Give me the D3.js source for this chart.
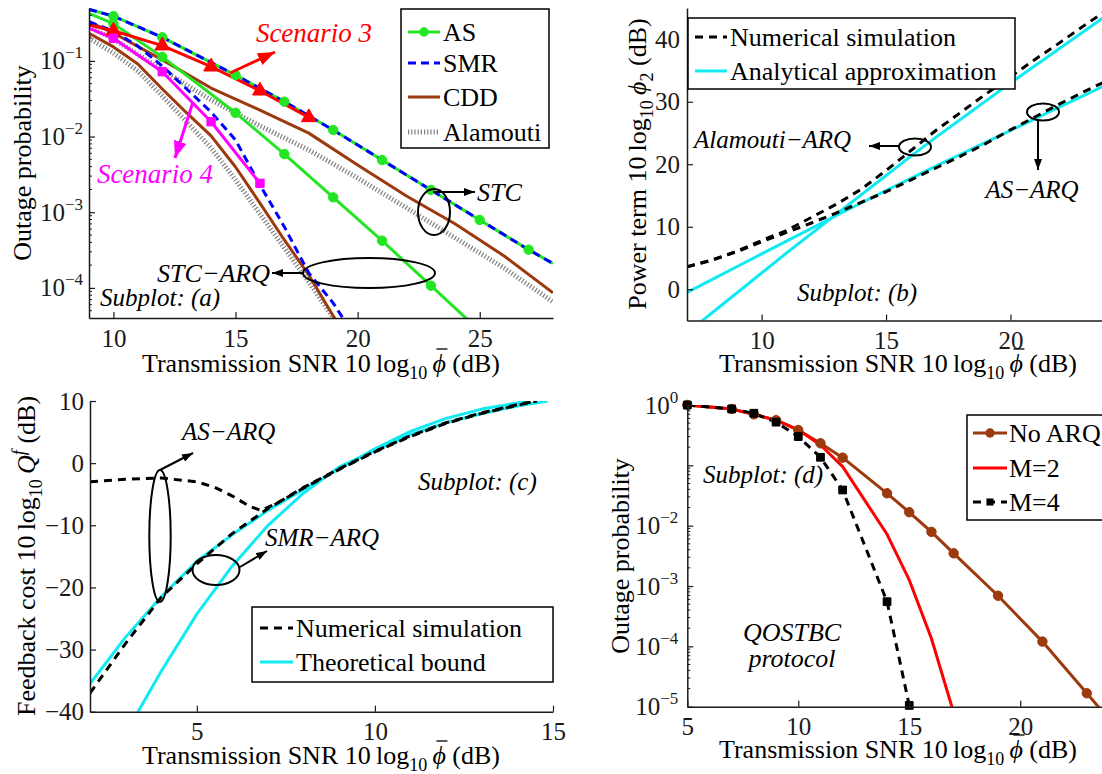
<!DOCTYPE html>
<html>
<head>
<meta charset="utf-8">
<script src="https://cdn.jsdelivr.net/npm/d3@7"></script>
<style>
  body { margin: 0; background: #fff; }
  svg { display: block; }
</style>
</head>
<body>
<script>
// ---------- data ----------

// subplot (a): outage probability, STC and STC-ARQ
var aSnr = [9, 10, 12, 15, 17, 19, 21, 23, 25, 27, 28];
var aAs = [0.48, 0.39, 0.205, 0.065, 0.0289, 0.0122, 0.0049, 0.00197, 7.9e-4, 3.2e-4, 2.1e-4];
var aSmr = [0.48, 0.39, 0.205, 0.065, 0.0289, 0.0122, 0.0049, 0.00197, 7.9e-4, 3.2e-4, 2.1e-4];
var aAsMarks = [10, 12, 15, 17, 19, 21, 23, 25, 27];

var aSnrAsArq = [9, 10, 12, 15, 17, 19, 21, 23, 25];
var aAsArq = [0.425, 0.31, 0.113, 0.0206, 0.00587, 0.00157, 4.2e-4, 1.07e-4, 2.7e-5];
var aAsArqMarks = [10, 12, 15, 17, 19, 21, 23];

var aSnrSmrArq = [9, 10, 11, 12, 13, 14, 15, 16, 17, 18, 19, 20];
var aSmrArq = [0.33, 0.248, 0.157, 0.0855, 0.0425, 0.0211, 0.009, 0.0023, 6.4e-4, 1.57e-4, 6.3e-5, 2e-5];

var aSnrCdd = [9, 10, 12, 14, 16, 18, 20, 22, 24, 26, 28];
var aCdd = [0.327, 0.234, 0.103, 0.0438, 0.0224, 0.0111, 0.0042, 0.00164, 6.98e-4, 2.64e-4, 8.6e-5];
var aAlamouti = [0.28, 0.195, 0.0759, 0.0304, 0.0138, 0.00664, 0.00283, 0.00114, 4.56e-4, 1.83e-4, 6.5e-5];

var aSnrStcArq = [9, 10, 11, 12, 13, 14, 15, 16, 17, 18, 19, 20];
var aCddArq = [0.232, 0.153, 0.091, 0.0426, 0.0205, 0.0102, 0.00396, 0.00132, 4.3e-4, 1.48e-4, 4.25e-5, 1.2e-5];
var aAlamoutiArq = [0.2, 0.127, 0.0734, 0.0343, 0.0156, 0.00706, 0.00267, 9.5e-4, 3.37e-4, 1.2e-4, 4.0e-5, 1.1e-5];

var aSnrS3 = [9, 10, 12, 14, 16, 18];
var aS3 = [0.298, 0.25, 0.159, 0.0838, 0.0403, 0.0179];
var aSnrS4 = [9, 10, 12, 14, 16];
var aS4 = [0.27, 0.199, 0.072, 0.0157, 0.00241];

var aXTicks = [10, 15, 20, 25];
var aYTicks = [1e-4, 1e-3, 1e-2, 1e-1];
var aLegend = ["AS", "SMR", "CDD", "Alamouti"];

// subplot (b): power term
var bSnr = [7, 8, 9, 10, 11, 12, 13, 14, 15, 16, 17, 18, 19, 20, 21, 22, 23, 24];
var bAlaSim = [3.6, 4.6, 6.1, 7.8, 9.4, 11.5, 13.6, 16.0, 19.0, 22.2, 25.4, 28.3, 31.2, 34.0, 36.8, 39.5, 42.3, 45.0];
var bAlaApprox = [-7.0, -3.8, -0.6, 2.6, 5.8, 8.9, 12.0, 15.1, 18.2, 21.3, 24.3, 27.2, 30.1, 33.0, 35.8, 38.6, 41.4, 44.2];
var bAsSim = [3.6, 4.7, 6.0, 7.6, 9.1, 10.6, 12.2, 13.9, 15.6, 17.5, 19.4, 21.3, 23.3, 25.5, 27.6, 29.7, 31.7, 33.6];
var bAsApprox = [-0.5, 1.55, 3.6, 5.65, 7.7, 9.75, 11.8, 13.8, 15.8, 17.75, 19.7, 21.6, 23.5, 25.4, 27.3, 29.2, 31.1, 33.0];
var bXTicks = [10, 15, 20];
var bYTicks = [0, 10, 20, 30, 40];
var bLegend = ["Numerical simulation", "Analytical approximation"];

// subplot (c): feedback cost
var cSnrAsSim = [2, 3, 4, 5, 5.5, 6, 6.5, 6.8, 7.2, 8, 9, 10, 11, 12, 13, 14, 14.5];
var cAsSim = [-3, -2.6, -2.4, -3.0, -3.9, -5.3, -7.0, -7.6, -6.6, -3.9, -0.9, 1.9, 4.4, 6.5, 8.1, 9.4, 10];
var cSnrSmrSim = [2, 3, 4, 5, 6, 7, 8, 9, 10, 11, 12, 13, 14, 14.55];
var cSmrSim = [-37, -29, -21.6, -16.2, -11.3, -7.3, -4.0, -1.0, 1.8, 4.3, 6.4, 8.0, 9.3, 10];
var cSnrAsBound = [2, 3, 4, 5, 6, 7, 8, 9, 10, 11, 12, 13, 14, 14.27];
var cAsBound = [-35.5, -28, -21.5, -15.8, -11.5, -7.6, -4.2, -0.9, 2.3, 5.1, 7.2, 8.7, 9.7, 10];
var cSnrSmrBound = [3.3, 4, 5, 6, 7, 8, 9, 10, 11, 12, 13, 14, 14.85];
var cSmrBound = [-40.5, -33.5, -24.3, -16.5, -10.0, -4.8, -0.6, 2.0, 4.6, 6.5, 8.0, 9.2, 10];
var cXTicks = [5, 10, 15];
var cYTicks = [-40, -30, -20, -10, 0, 10];
var cLegend = ["Numerical simulation", "Theoretical bound"];

// subplot (d): QOSTBC protocol
var dSnrNoArq = [5, 7, 8, 9, 10, 11, 12, 14, 15, 16, 17, 19, 21, 23, 24];
var dNoArq = [1.0, 0.86, 0.70, 0.56, 0.385, 0.232, 0.134, 0.0344, 0.0167, 0.0079, 0.00348, 6.9e-4, 1.2e-4, 1.67e-5, 6.2e-6];
var dNoArqMarks = [5, 7, 8, 9, 10, 11, 12, 14, 15, 16, 17, 19, 21, 23];
var dSnrM2 = [5, 7, 8, 9, 10, 11, 12, 14, 15, 16, 17];
var dM2 = [1.0, 0.86, 0.70, 0.56, 0.39, 0.217, 0.095, 0.0072, 0.00126, 1.35e-4, 8e-6];
var dSnrM4 = [5, 7, 8, 9, 10, 11, 12, 14, 15];
var dM4 = [1.0, 0.86, 0.73, 0.52, 0.30, 0.136, 0.039, 5.5e-4, 1.05e-5];
var dXTicks = [5, 10, 15, 20];
var dYTicks = [1e-5, 1e-4, 1e-3, 1e-2, 1e-1, 1];
var dYLabelled = [1e-5, 1e-4, 1e-3, 1e-2, 1];
var dLegend = ["No ARQ", "M=2", "M=4"];

// ---------- drawing ----------
var serif = "'Liberation Serif','Times New Roman',serif";
var GREEN = "#22e622", BLUE = "#0000ff", BROWN = "#9c3a0e", GRAY = "#808080",
    RED = "#ff0000", MAG = "#ff00ff", CYAN = "#11eaf2";

var svg = d3.select("body").append("svg")
    .attr("width", 1102).attr("height", 774)
    .style("font-family", serif);
var defs = svg.append("defs");

function arrowHead(id, color, len, wid) {
    defs.append("marker").attr("id", id)
        .attr("markerUnits", "userSpaceOnUse")
        .attr("viewBox", "0 0 " + len + " " + wid)
        .attr("refX", len).attr("refY", wid / 2)
        .attr("markerWidth", len).attr("markerHeight", wid)
        .attr("orient", "auto")
        .append("path")
        .attr("d", "M0,0L" + len + "," + (wid / 2) + "L0," + wid + "Z")
        .attr("fill", color);
}
arrowHead("ahBlack", "#000", 11, 8);
arrowHead("ahRed", RED, 17, 13);
arrowHead("ahMag", MAG, 17, 13);

function makePanel(o) {
    var p = {};
    p.x = d3.scaleLinear().domain(o.xDom).range([o.l, o.r]);
    p.y = (o.log ? d3.scaleLog() : d3.scaleLinear()).domain(o.yDom).range([o.b, o.t]);
    p.g = svg.append("g");
    p.clip = "clip-" + o.name;
    defs.append("clipPath").attr("id", p.clip).append("rect")
        .attr("x", o.l).attr("y", o.t)
        .attr("width", o.r - o.l).attr("height", o.b - o.t);
    p.lines = p.g.append("g").attr("clip-path", "url(#" + p.clip + ")");
    p.marks = p.g.append("g");

    var ax = p.g.append("g").attr("transform", "translate(0," + o.b + ")")
        .call(d3.axisBottom(p.x).tickValues(o.xTicks).tickSizeInner(-6)
            .tickSizeOuter(0).tickPadding(11).tickFormat(d3.format("d")));
    var ay = p.g.append("g").attr("transform", "translate(" + o.l + ",0)")
        .call(d3.axisLeft(p.y).tickValues(o.yTicks).tickSizeInner(-6)
            .tickSizeOuter(0).tickPadding(o.yPad)
            .tickFormat(o.log ? function () { return ""; } : d3.format("d")));
    [ax, ay].forEach(function (a) {
        a.attr("font-size", 25).attr("font-family", serif).attr("color", "#1a1a1a");
        a.select(".domain").attr("stroke-width", 1.5);
        a.selectAll(".tick line").attr("stroke-width", 1.2);
    });

    if (o.log) {
        var labelled = o.yLabelled || o.yTicks;
        ay.selectAll(".tick text").each(function (d) {
            var t = d3.select(this);
            if (labelled.indexOf(d) < 0) return;
            var e = Math.round(Math.log10(d));
            t.append("tspan").text("10");
            t.append("tspan").attr("dy", -11).attr("font-size", 17)
                .text(e === 0 ? "0" : "\u2212" + (-e));
        });
        // minor ticks
        var lo = Math.floor(Math.log10(o.yDom[0])), hi = Math.ceil(Math.log10(o.yDom[1]));
        var minor = [];
        for (var e = lo; e < hi; e++) {
            for (var k = 2; k < 10; k++) {
                var v = k * Math.pow(10, e);
                if (v > o.yDom[0] && v < o.yDom[1]) minor.push(v);
            }
        }
        p.g.append("g").selectAll("line").data(minor).enter().append("line")
            .attr("x1", o.l).attr("x2", o.l + 3)
            .attr("y1", function (d) { return p.y(d); })
            .attr("y2", function (d) { return p.y(d); })
            .attr("stroke", "#1a1a1a").attr("stroke-width", 1);
    }
    return p;
}

function series(p, xs, ys, st) {
    var pts = xs.map(function (v, i) { return [v, ys[i]]; });
    p.lines.append("path").datum(pts)
        .attr("fill", "none")
        .attr("stroke", st.color)
        .attr("stroke-width", st.width || 3)
        .attr("stroke-dasharray", st.dash || null)
        .attr("stroke-linejoin", "round")
        .attr("d", d3.line().x(function (d) { return p.x(d[0]); })
            .y(function (d) { return p.y(d[1]); }));
    if (st.sym) {
        var mk = pts.filter(function (d) { return st.marks.indexOf(d[0]) >= 0; });
        p.marks.selectAll(null).data(mk).enter().append("path")
            .attr("transform", function (d) {
                return "translate(" + p.x(d[0]) + "," + p.y(d[1]) + ")";
            })
            .attr("d", d3.symbol().type(st.sym).size(st.size || 64))
            .attr("fill", st.fill || st.color)
            .attr("stroke", st.color).attr("stroke-width", 1);
    }
}

function legend(bx, by, bw, bh, items, lx0, lx1, tx) {
    var g = svg.append("g");
    g.append("rect").attr("x", bx).attr("y", by).attr("width", bw).attr("height", bh)
        .attr("fill", "#fff").attr("stroke", "#000").attr("stroke-width", 1.5);
    items.forEach(function (it) {
        g.append("line").attr("x1", lx0).attr("x2", lx1).attr("y1", it.y).attr("y2", it.y)
            .attr("stroke", it.color).attr("stroke-width", it.width || 3)
            .attr("stroke-dasharray", it.dash || null);
        if (it.sym) {
            g.append("path").attr("transform", "translate(" + ((lx0 + lx1) / 2) + "," + it.y + ")")
                .attr("d", d3.symbol().type(it.sym).size(it.size || 64))
                .attr("fill", it.color);
        }
        g.append("text").attr("x", tx).attr("y", it.y).attr("dy", "0.34em")
            .attr("font-size", 26).text(it.label);
    });
}

function note(x, y, txt, o) {
    o = o || {};
    return svg.append("text").attr("x", x).attr("y", y).attr("dy", "0.33em")
        .attr("font-size", o.size || 25).attr("font-style", "italic")
        .attr("text-anchor", o.anchor || "start")
        .attr("fill", o.color || "#000").text(txt);
}
function ring(cx, cy, rx, ry) {
    svg.append("ellipse").attr("cx", cx).attr("cy", cy).attr("rx", rx).attr("ry", ry)
        .attr("fill", "none").attr("stroke", "#000").attr("stroke-width", 2);
}
function arrow(x1, y1, x2, y2, color, head, w) {
    svg.append("line").attr("x1", x1).attr("y1", y1).attr("x2", x2).attr("y2", y2)
        .attr("stroke", color).attr("stroke-width", w || 2)
        .attr("marker-end", "url(#" + head + ")");
}

// x label with a bar drawn over the phi
function snrLabel(cx, y) {
    var lead = "Transmission SNR 10\u2009log";
    var t = svg.append("text").attr("x", cx).attr("y", y)
        .attr("text-anchor", "middle").attr("font-size", 26);
    t.append("tspan").text(lead);
    t.append("tspan").attr("font-size", 18).attr("dy", 7).text("10");
    t.append("tspan").attr("dy", -7).text("\u2009");
    t.append("tspan").attr("font-style", "italic").text("\u03D5");
    t.append("tspan").text(" (dB)");
    var ext = t.node().getExtentOfChar(lead.length + 3);
    svg.append("line")
        .attr("x1", ext.x + ext.width * 0.3).attr("x2", ext.x + ext.width * 0.3 + 11)
        .attr("y1", y - 23).attr("y2", y - 23)
        .attr("stroke", "#000").attr("stroke-width", 1.3);
}
function yLabel(cx, cy, build) {
    var t = svg.append("text").attr("transform", "translate(" + cx + "," + cy + ") rotate(-90)")
        .attr("text-anchor", "middle").attr("font-size", 26);
    build(t);
}

// ----- subplot (a) -----
var pa = makePanel({ name: "a", l: 89, r: 553, t: 8, b: 318, xDom: [9, 28],
    yDom: [4e-5, 0.5], log: true, xTicks: aXTicks, yTicks: aYTicks, yPad: 6 });
series(pa, aSnrCdd, aAlamouti, { color: GRAY, width: 5, dash: "1.2 2" });
series(pa, aSnrStcArq, aAlamoutiArq, { color: GRAY, width: 5, dash: "1.2 2" });
series(pa, aSnrCdd, aCdd, { color: BROWN });
series(pa, aSnrStcArq, aCddArq, { color: BROWN });
series(pa, aSnr, aAs, { color: GREEN, sym: d3.symbolCircle, size: 70, marks: aAsMarks });
series(pa, aSnrAsArq, aAsArq, { color: GREEN, sym: d3.symbolCircle, size: 70, marks: aAsArqMarks });
series(pa, aSnr, aSmr, { color: BLUE, dash: "8 5" });
series(pa, aSnrSmrArq, aSmrArq, { color: BLUE, dash: "8 5" });
series(pa, aSnrS3, aS3, { color: RED, sym: d3.symbolTriangle, size: 95, marks: aSnrS3.slice(1) });
series(pa, aSnrS4, aS4, { color: MAG, sym: d3.symbolSquare, size: 70, marks: aSnrS4.slice(1) });

legend(401, 9, 148, 139, [
    { label: aLegend[0], y: 32, color: GREEN, sym: d3.symbolCircle, size: 70 },
    { label: aLegend[1], y: 63, color: BLUE, dash: "8 5" },
    { label: aLegend[2], y: 97, color: BROWN },
    { label: aLegend[3], y: 132, color: GRAY, width: 5, dash: "1.2 2" }
], 408, 440, 443);

arrow(230, 73, 275, 52, RED, "ahRed", 3);
note(314, 33, "Scenario 3", { color: RED, size: 27, anchor: "middle" });
arrow(193, 102, 175, 158, MAG, "ahMag", 3);
note(155, 174, "Scenario 4", { color: MAG, size: 27, anchor: "middle" });
ring(434, 212, 16, 23);
arrow(433, 192, 475, 192, "#000", "ahBlack");
note(477, 192, "STC", { size: 26 });
ring(369, 273, 66, 15);
arrow(303, 273, 272, 273, "#000", "ahBlack");
note(270, 273, "STC\u2212ARQ", { size: 26, anchor: "end" });
note(100, 298, "Subplot: (a)");

snrLabel(321, 372);
yLabel(31, 163, function (t) { t.text("Outage probability"); });

// ----- subplot (b) -----
var pb = makePanel({ name: "b", l: 687, r: 1110, t: 8, b: 320.5, xDom: [7, 24],
    yDom: [-5, 45], log: false, xTicks: bXTicks, yTicks: bYTicks, yPad: 7 });
series(pb, bSnr, bAlaApprox, { color: CYAN });
series(pb, bSnr, bAsApprox, { color: CYAN });
series(pb, bSnr, bAlaSim, { color: "#000", dash: "8 6" });
series(pb, bSnr, bAsSim, { color: "#000", dash: "8 6" });

legend(688, 18, 327, 71, [
    { label: bLegend[0], y: 37, color: "#000", dash: "8 6" },
    { label: bLegend[1], y: 71, color: CYAN }
], 695, 727, 730);

ring(915, 147, 16, 8.5);
arrow(899, 146, 869, 146, "#000", "ahBlack");
note(694, 140, "Alamouti\u2212ARQ");
ring(1043, 112, 16, 8.5);
arrow(1038, 121, 1038, 170, "#000", "ahBlack");
note(1032, 190, "AS\u2212ARQ", { anchor: "middle" });
note(797, 293, "Subplot: (b)");

snrLabel(898, 372);
yLabel(646, 164, function (t) {
    t.append("tspan").text("Power term 10\u2009log");
    t.append("tspan").attr("font-size", 18).attr("dy", 7).text("10");
    t.append("tspan").attr("dy", -7).text("\u2009");
    t.append("tspan").attr("font-style", "italic").text("\u03D5");
    t.append("tspan").attr("font-size", 18).attr("dy", 7).text("2");
    t.append("tspan").attr("dy", -7).text(" (dB)");
});

// ----- subplot (c) -----
var pc = makePanel({ name: "c", l: 90, r: 553, t: 401, b: 711.7, xDom: [2, 15],
    yDom: [-40, 10], log: false, xTicks: cXTicks, yTicks: cYTicks, yPad: 6 });
series(pc, cSnrAsBound, cAsBound, { color: CYAN });
series(pc, cSnrSmrBound, cSmrBound, { color: CYAN });
series(pc, cSnrAsSim, cAsSim, { color: "#000", dash: "8 6" });
series(pc, cSnrSmrSim, cSmrSim, { color: "#000", dash: "8 6" });

legend(252, 607, 301, 75, [
    { label: cLegend[0], y: 628, color: "#000", dash: "8 6" },
    { label: cLegend[1], y: 662, color: CYAN }
], 260, 293, 296);

ring(160, 536, 10.7, 66);
arrow(160, 470, 193, 453, "#000", "ahBlack");
note(182, 432, "AS\u2212ARQ");
ring(216, 570, 23.5, 15);
arrow(240, 567, 267, 551, "#000", "ahBlack");
note(265, 538, "SMR\u2212ARQ");
note(418, 482, "Subplot: (c)");

snrLabel(321, 764);
yLabel(35, 556, function (t) {
    t.append("tspan").text("Feedback cost 10\u2009log");
    t.append("tspan").attr("font-size", 18).attr("dy", 7).text("10");
    t.append("tspan").attr("dy", -7).text("\u2009");
    t.append("tspan").attr("font-style", "italic").text("Q");
    t.append("tspan").attr("font-size", 18).attr("font-style", "italic").attr("dy", -10).text("f");
    t.append("tspan").attr("dy", 10).text(" (dB)");
});

// ----- subplot (d) -----
var pd = makePanel({ name: "d", l: 687.3, r: 1109, t: 405, b: 706.7, xDom: [5, 24],
    yDom: [1e-5, 1], log: true, xTicks: dXTicks, yTicks: dYTicks, yLabelled: dYLabelled, yPad: 9 });
series(pd, dSnrNoArq, dNoArq, { color: BROWN, sym: d3.symbolCircle, size: 70, marks: dNoArqMarks });
series(pd, dSnrM2, dM2, { color: RED });
series(pd, dSnrM4, dM4, { color: "#000", dash: "8 6", sym: d3.symbolSquare, size: 60, marks: dSnrM4 });

legend(967, 415, 150, 105, [
    { label: dLegend[0], y: 433, color: BROWN, sym: d3.symbolCircle, size: 70 },
    { label: dLegend[1], y: 468, color: RED },
    { label: dLegend[2], y: 502, color: "#000", dash: "8 6", sym: d3.symbolSquare, size: 50 }
], 973, 1007, 1009);

note(703, 475, "Subplot: (d)");
note(792, 632, "QOSTBC", { anchor: "middle", size: 26 });
note(792, 658, "protocol", { anchor: "middle", size: 26 });

snrLabel(898, 758);
yLabel(629, 556, function (t) { t.text("Outage probability"); });
</script>
</body>
</html>
